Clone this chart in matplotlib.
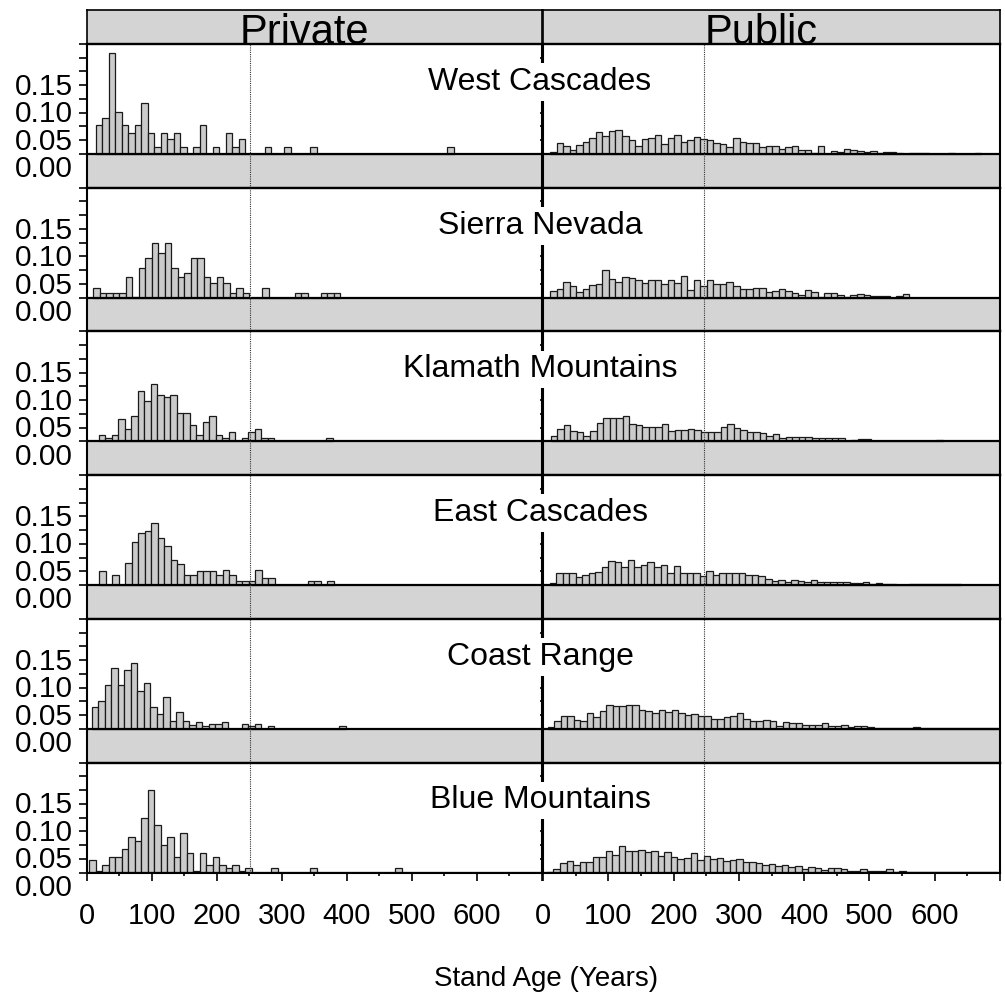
import numpy as np
import matplotlib
matplotlib.use('Agg')
import matplotlib.pyplot as plt

plt.rcParams['font.family'] = ['Liberation Sans', 'DejaVu Sans']

# ---------------- data ----------------
regions = ['West Cascades', 'Sierra Nevada', 'Klamath Mountains',
           'East Cascades', 'Coast Range', 'Blue Mountains']
ownerships = ['Private', 'Public']
x_label = 'Stand Age (Years)'
x_tick_values = [0, 100, 200, 300, 400, 500, 600, 700]
x_tick_labels = ['0', '100', '200', '300', '400', '500', '600', '']
y_tick_values = [0.0, 0.05, 0.10, 0.15]
y_tick_labels = ['0.00', '0.05', '0.10', '0.15']
bin_width = 10
reference_age = {'Private': 251, 'Public': 246}

# left edge (years) of the first bin of each histogram
bin_start_private = [14, 10, 18.5, 19.5, 8, 4]
bin_start_public = [11, 11, 12, 10, 7, 6]

private_west_cascades = [0.052, 0.066, 0.183, 0.077, 0.052, 0.039, 0.052, 0.092, 0.039, 0.012,
                         0.039, 0.027, 0.039, 0.012, 0, 0.012, 0.052, 0, 0.012, 0,
                         0.039, 0.012, 0.027, 0, 0, 0, 0.012, 0, 0, 0.012,
                         0, 0, 0, 0.012, 0, 0, 0, 0, 0, 0,
                         0, 0, 0, 0, 0, 0, 0, 0, 0, 0,
                         0, 0, 0, 0, 0.012]
private_sierra_nevada = [0.018, 0.0085, 0.0085, 0.0085, 0.0085, 0.037, 0.002, 0.054, 0.072, 0.1,
                         0.081, 0.1, 0.054, 0.037, 0.045, 0.072, 0.072, 0.037, 0.027, 0.037,
                         0.027, 0.0085, 0.018, 0.0085, 0, 0, 0.018, 0, 0, 0,
                         0, 0.0085, 0.0085, 0, 0, 0.0085, 0.0085, 0.0085]
private_klamath = [0.011, 0.0054, 0.011, 0.040, 0.023, 0.046, 0.092, 0.074, 0.104, 0.085,
                   0.080, 0.085, 0.052, 0.052, 0.029, 0.011, 0.035, 0.046, 0.011, 0.0054,
                   0.017, 0, 0.0054, 0.017, 0.023, 0.0054, 0.0054, 0, 0, 0,
                   0, 0, 0, 0, 0, 0.0054]
private_east_cascades = [0.026, 0, 0.019, 0, 0.040, 0.079, 0.094, 0.099, 0.113, 0.086,
                         0.072, 0.0465, 0.039, 0.019, 0.019, 0.026, 0.026, 0.026, 0.019, 0.027,
                         0.019, 0.0066, 0.0066, 0.0066, 0.027, 0.0127, 0.0127, 0, 0, 0,
                         0, 0, 0.0066, 0.0066, 0, 0.0066]
private_coast_range = [0.039, 0.051, 0.080, 0.110, 0.080, 0.107, 0.119, 0.069, 0.084, 0.039,
                       0.027, 0.057, 0.015, 0.031, 0.015, 0.0078, 0.012, 0.0048, 0.0085, 0.0085,
                       0.012, 0, 0, 0.0085, 0.0048, 0.0085, 0, 0.0048, 0, 0,
                       0, 0, 0, 0, 0, 0, 0, 0, 0.0048]
private_blue_mountains = [0.022, 0.002, 0.0145, 0.028, 0.028, 0.0435, 0.064, 0.057, 0.100, 0.150,
                          0.086, 0.050, 0.064, 0.028, 0.071, 0.035, 0.0024, 0.035, 0.014, 0.028,
                          0.0145, 0.0078, 0.0145, 0.0024, 0.0078, 0, 0, 0, 0.0078, 0,
                          0, 0, 0, 0, 0.0078, 0, 0, 0, 0, 0,
                          0, 0, 0, 0, 0, 0, 0, 0.0078]

public_west_cascades = [0.0042, 0.020, 0.0139, 0.0079, 0.0157, 0.0211, 0.0284, 0.0405, 0.032, 0.0417,
                        0.0441, 0.032, 0.026, 0.0145, 0.0266, 0.0284, 0.035, 0.0175, 0.0284, 0.0338,
                        0.0211, 0.0248, 0.0302, 0.0266, 0.026, 0.0193, 0.0175, 0.0121, 0.0296, 0.0217,
                        0.020, 0.020, 0.0133, 0.0139, 0.0139, 0.0085, 0.0121, 0.0139, 0.0072, 0.0066,
                        0.0024, 0.0151, 0, 0.0054, 0.003, 0.0085, 0.0072, 0.0048, 0.003, 0.0048,
                        0.0024, 0.003, 0.003, 0.0018, 0.0006, 0.0018, 0.0018, 0.0024, 0, 0,
                        0, 0.0018, 0, 0, 0, 0.0018]
public_sierra_nevada = [0.0121, 0.0151, 0.0284, 0.0205, 0.0103, 0.0157, 0.0236, 0.0254, 0.0501, 0.0344,
                        0.0284, 0.0368, 0.0356, 0.0314, 0.0266, 0.0314, 0.0314, 0.0248, 0.0314, 0.026,
                        0.0393, 0.0145, 0.032, 0.0217, 0.032, 0.0248, 0.0248, 0.0284, 0.0217, 0.0151,
                        0.0151, 0.0181, 0.0181, 0.0097, 0.0127, 0.0151, 0.0121, 0.0091, 0.0042, 0.0139,
                        0.0097, 0.0012, 0.0085, 0.0085, 0.0048, 0.0012, 0.0042, 0.006, 0.0042, 0.0024,
                        0.0024, 0.0024, 0, 0.0024, 0.006]
public_klamath = [0.009, 0.0223, 0.0302, 0.0187, 0.0169, 0.0097, 0.0181, 0.0326, 0.0429, 0.0417,
                  0.0429, 0.0459, 0.032, 0.0302, 0.0266, 0.0266, 0.0266, 0.0308, 0.0187, 0.0199,
                  0.0199, 0.0229, 0.0205, 0.0175, 0.0175, 0.0169, 0.026, 0.032, 0.0248, 0.0199,
                  0.0169, 0.0169, 0.0145, 0.0103, 0.0133, 0.0066, 0.0085, 0.0085, 0.0085, 0.0085,
                  0.006, 0.006, 0.006, 0.006, 0.006, 0.0012, 0.0024, 0.0036, 0.0036, 0.0012,
                  0.0012, 0.0012, 0.0012, 0.0012, 0.0012, 0, 0, 0, 0, 0.003]
public_east_cascades = [0.0036, 0.0217, 0.0229, 0.0229, 0.0145, 0.0181, 0.0211, 0.0236, 0.0326, 0.0441,
                        0.0411, 0.0326, 0.0453, 0.0326, 0.0368, 0.0429, 0.0332, 0.0368, 0.0229, 0.0356,
                        0.0211, 0.0229, 0.0229, 0.0163, 0.0248, 0.0181, 0.0211, 0.0211, 0.0223, 0.0229,
                        0.0181, 0.0181, 0.0163, 0.0109, 0.0079, 0.0097, 0.006, 0.0091, 0.0066, 0.006,
                        0.0091, 0.006, 0.0054, 0.0054, 0.0054, 0.0054, 0.003, 0.003, 0.0054, 0.0024,
                        0.0036, 0.0012, 0.0024, 0.0006, 0.0006, 0.0024, 0.0012, 0.0012, 0.0012, 0.0012,
                        0.0012, 0.0012, 0.0012]
public_coast_range = [0.0024, 0.0133, 0.0229, 0.0235, 0.0157, 0.0139, 0.0296, 0.0217, 0.0326, 0.0435,
                      0.0411, 0.0411, 0.0435, 0.0435, 0.0344, 0.0332, 0.0284, 0.0344, 0.0302, 0.0344,
                      0.029, 0.0242, 0.0272, 0.0235, 0.0235, 0.0187, 0.0181, 0.0223, 0.0229, 0.029,
                      0.0175, 0.0139, 0.0145, 0.0169, 0.0139, 0.006, 0.0121, 0.0097, 0.0103, 0.0066,
                      0.0066, 0.0072, 0.0097, 0.0054, 0.0048, 0.0066, 0.0036, 0.0048, 0.0048, 0.0024,
                      0.0018, 0.0018, 0.0018, 0.0018, 0.0018, 0.0018, 0.0036, 0.0012, 0.0012, 0.0012,
                      0.0012, 0.0012, 0.0012, 0.0012, 0.0012, 0.0012, 0.0012, 0.0012, 0.0012]
public_blue_mountains = [0.0018, 0.0072, 0.0181, 0.0211, 0.0133, 0.0193, 0.0199, 0.029, 0.0284, 0.0386,
                         0.0314, 0.0489, 0.0393, 0.0393, 0.0417, 0.038, 0.0399, 0.0302, 0.038, 0.029,
                         0.0242, 0.026, 0.0356, 0.0229, 0.0302, 0.0254, 0.0266, 0.0217, 0.0223, 0.0248,
                         0.0193, 0.0199, 0.0175, 0.0139, 0.0163, 0.0127, 0.0145, 0.0103, 0.0115, 0.0072,
                         0.0091, 0.0085, 0.0054, 0.0085, 0.0085, 0.006, 0.0036, 0.003, 0.0066, 0.0036,
                         0.0036, 0.003, 0.006, 0.0018, 0.0036, 0.0018, 0.0012, 0.0012, 0.0012, 0.0012,
                         0.0012, 0.0012, 0.0012, 0.0012, 0.0012, 0.0012, 0.0012, 0.0012, 0.0012]

private_values = [private_west_cascades, private_sierra_nevada, private_klamath,
                  private_east_cascades, private_coast_range, private_blue_mountains]
public_values = [public_west_cascades, public_sierra_nevada, public_klamath,
                 public_east_cascades, public_coast_range, public_blue_mountains]

# ---------------- layout / style ----------------
W, H = 1005, 998
fig = plt.figure(figsize=(W / 100, H / 100), dpi=100)

STRIP_GRAY = '#d4d4d4'
BAR_GRAY = '#cbcbcb'
col_x = [(86.7, 542.0), (543.0, 1000.0)]
strip_top, strip_bot = 10.0, 44.0
row_top0 = 44.0
row_pitch = 143.7
data_h = 110.0
YMAX = 0.2
ymin_gap = -YMAX * (row_pitch - data_h) / data_h


def add_px_axes(x0, x1, y0, y1):
    return fig.add_axes([x0 / W, 1 - y1 / H, (x1 - x0) / W, (y1 - y0) / H])


# top strips
for j, name in enumerate(ownerships):
    x0, x1 = col_x[j]
    sax = add_px_axes(x0, x1, strip_top, strip_bot)
    sax.set_facecolor(STRIP_GRAY)
    sax.set_xticks([])
    sax.set_yticks([])
    for sp in sax.spines.values():
        sp.set_linewidth(1.2)
        sp.set_color('black')
    sax.text(0.5 - 10.0 / (x1 - x0), -0.01, name, ha='center', va='baseline',
             fontsize=30, transform=sax.transAxes, clip_on=True)

for i, region in enumerate(regions):
    top = row_top0 + i * row_pitch
    last = (i == len(regions) - 1)
    bottom = top + (data_h if last else row_pitch)
    ymin = 0.0 if last else ymin_gap
    for j, own in enumerate(ownerships):
        x0, x1 = col_x[j]
        ax = add_px_axes(x0, x1, top, bottom)
        ax.set_xlim(0, 700)
        ax.set_ylim(ymin, YMAX)
        ax.set_facecolor('white')
        if not last:
            ax.axhspan(ymin, 0, facecolor=STRIP_GRAY, edgecolor='none', zorder=0)
        vals = (private_values if j == 0 else public_values)[i]
        start = (bin_start_private if j == 0 else bin_start_public)[i]
        centers = start + bin_width * np.arange(len(vals)) + bin_width / 2
        ax.bar(centers, vals, width=bin_width, facecolor=BAR_GRAY,
               edgecolor='#1a1a1a', linewidth=0.9, zorder=2)
        ax.axhline(0, color='black', lw=1.6, zorder=3)
        ax.axvline(reference_age[own], color='#333333', lw=0.8,
                   linestyle=(0, (1, 1)), zorder=4)
        for sp in ax.spines.values():
            sp.set_color('black')
            sp.set_linewidth(1.5)
        ax.spines['top'].set_linewidth(1.7)
        # y ticks
        ax.set_yticks(np.arange(0, 0.2001, 0.025))
        ax.set_yticklabels([])
        if j == 0:
            ax.tick_params(axis='y', direction='out', length=5.8, width=1.2)
            for v, lab in zip(y_tick_values, y_tick_labels):
                ax.annotate(lab, xy=(0, v), xycoords=('axes fraction', 'data'),
                            xytext=(-10, -1.0), textcoords='offset points',
                            ha='right', va='top', fontsize=21.5,
                            annotation_clip=False)
        else:
            ax.tick_params(axis='y', direction='out', length=2.2, width=1.2)
        # x ticks
        if last:
            ax.set_xticks(x_tick_values)
            ax.set_xticklabels(x_tick_labels)
            ax.set_xticks(np.arange(50, 700, 100), minor=True)
            ax.tick_params(axis='x', which='major', direction='out', length=5.8,
                           width=1.2, pad=15.5, labelsize=21)
            ax.tick_params(axis='x', which='minor', direction='out', length=2.2,
                           width=1.2)
        else:
            ax.tick_params(axis='x', which='both', bottom=False, labelbottom=False)

    fig.text(540 / W, 1 - (top + 46) / H, region, ha='center', va='baseline',
             fontsize=23, zorder=6,
             bbox=dict(boxstyle='square,pad=0.12', facecolor='white', edgecolor='none'))

fig.text(546 / W, 1 - 986 / H, x_label, ha='center', va='baseline', fontsize=20)

fig.savefig('out.png', dpi=100)
